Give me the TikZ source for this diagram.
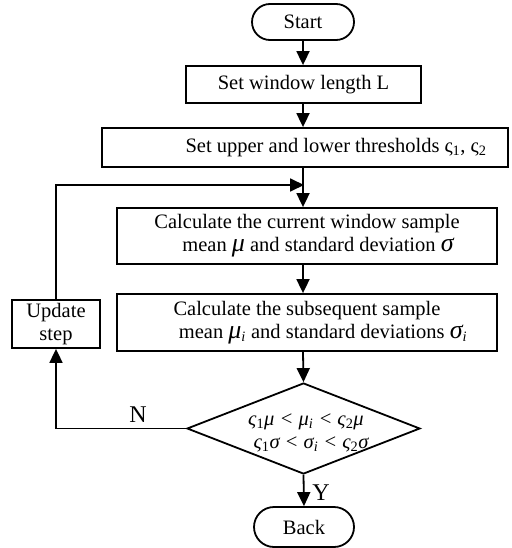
\documentclass[tikz,border=0pt]{standalone}
\usepackage{fontspec}
\setmainfont{Liberation Serif}
\usetikzlibrary{shapes.geometric,shapes.misc,arrows.meta}
\newcommand{\bigit}[1]{{\fontsize{26}{26}\selectfont\itshape #1}}
\newcommand{\sbit}[1]{\textsubscript{\itshape #1}}
\newcommand{\sbup}[1]{\textsubscript{\upshape #1}}
\begin{document}
\begin{tikzpicture}[x=1pt,y=-1pt,
  every node/.style={font=\fontsize{20.5}{23}\selectfont},
  box/.style={draw, line width=1.8pt, inner sep=0pt, align=center},
  term/.style={draw, line width=1.8pt, rounded rectangle, inner sep=0pt},
  dia/.style={draw, line width=1.8pt, diamond, inner sep=0pt},
  lbl/.style={font=\fontsize{24}{24}\selectfont, inner sep=0pt},
  arr/.style={line width=1.8pt, -{Triangle[length=14pt,width=13pt]}}]
\useasboundingbox (0,0) rectangle (511,548);
\node[term, minimum width=102pt, minimum height=36pt] (st) at (303,22) {Start};
\node[box, minimum width=235pt, minimum height=37pt] (len) at (303.5,84.5) {Set window length L};
\node[box, minimum width=406pt, minimum height=39pt] (thr) at (305,147.5) {\hspace*{62pt}Set upper and lower thresholds ς\sbup{1}, ς\sbup{2}};
\node[box, minimum width=380pt, minimum height=56pt] (c1) at (307,236) {Calculate the current window sample\\\hspace*{22pt}mean \bigit{μ} and standard deviation \bigit{σ}};
\node[box, minimum width=380pt, minimum height=57pt] (c2) at (307,322.5) {Calculate the subsequent sample\\\hspace*{32pt}mean \bigit{μ}\sbit{i} and standard deviations \bigit{σ}\sbit{i}};
\node[box, minimum width=88pt, minimum height=48pt] (upd) at (56,324) {Update\\step};
\node[dia, minimum width=233pt, minimum height=91pt] (dec) at (303.5,428.5) {};
\node[align=center, inner sep=0pt] (dect) at (306,433) {\itshape ς\sbup{1}μ < μ\sbit{i} < ς\sbup{2}μ\\\hspace*{10pt}\itshape ς\sbup{1}σ < σ\sbit{i} < ς\sbup{2}σ};
\node[term, minimum width=100pt, minimum height=40pt] (bk) at (304,527) {Back};
\node[lbl] (nl) at (138,415) {N};
\node[lbl] (yl) at (321,493) {Y};
\coordinate (jn) at (304,185);
\draw[arr] (st.south) -- (len.north -| st.south);
\draw[arr] (len.south -| st.south) -- (thr.north -| st.south);
\draw[arr] (thr.south -| st.south) -- (c1.north -| st.south);
\draw[arr] (c1.south -| st.south) -- (c2.north -| st.south);
\draw[arr] (c2.south -| st.south) -- (dec.north);
\draw[arr] (dec.south) -- (bk.north);
\draw[arr] (dec.west) -| (upd.south);
\draw[arr] (upd.north) |- (jn);
\end{tikzpicture}
\end{document}
